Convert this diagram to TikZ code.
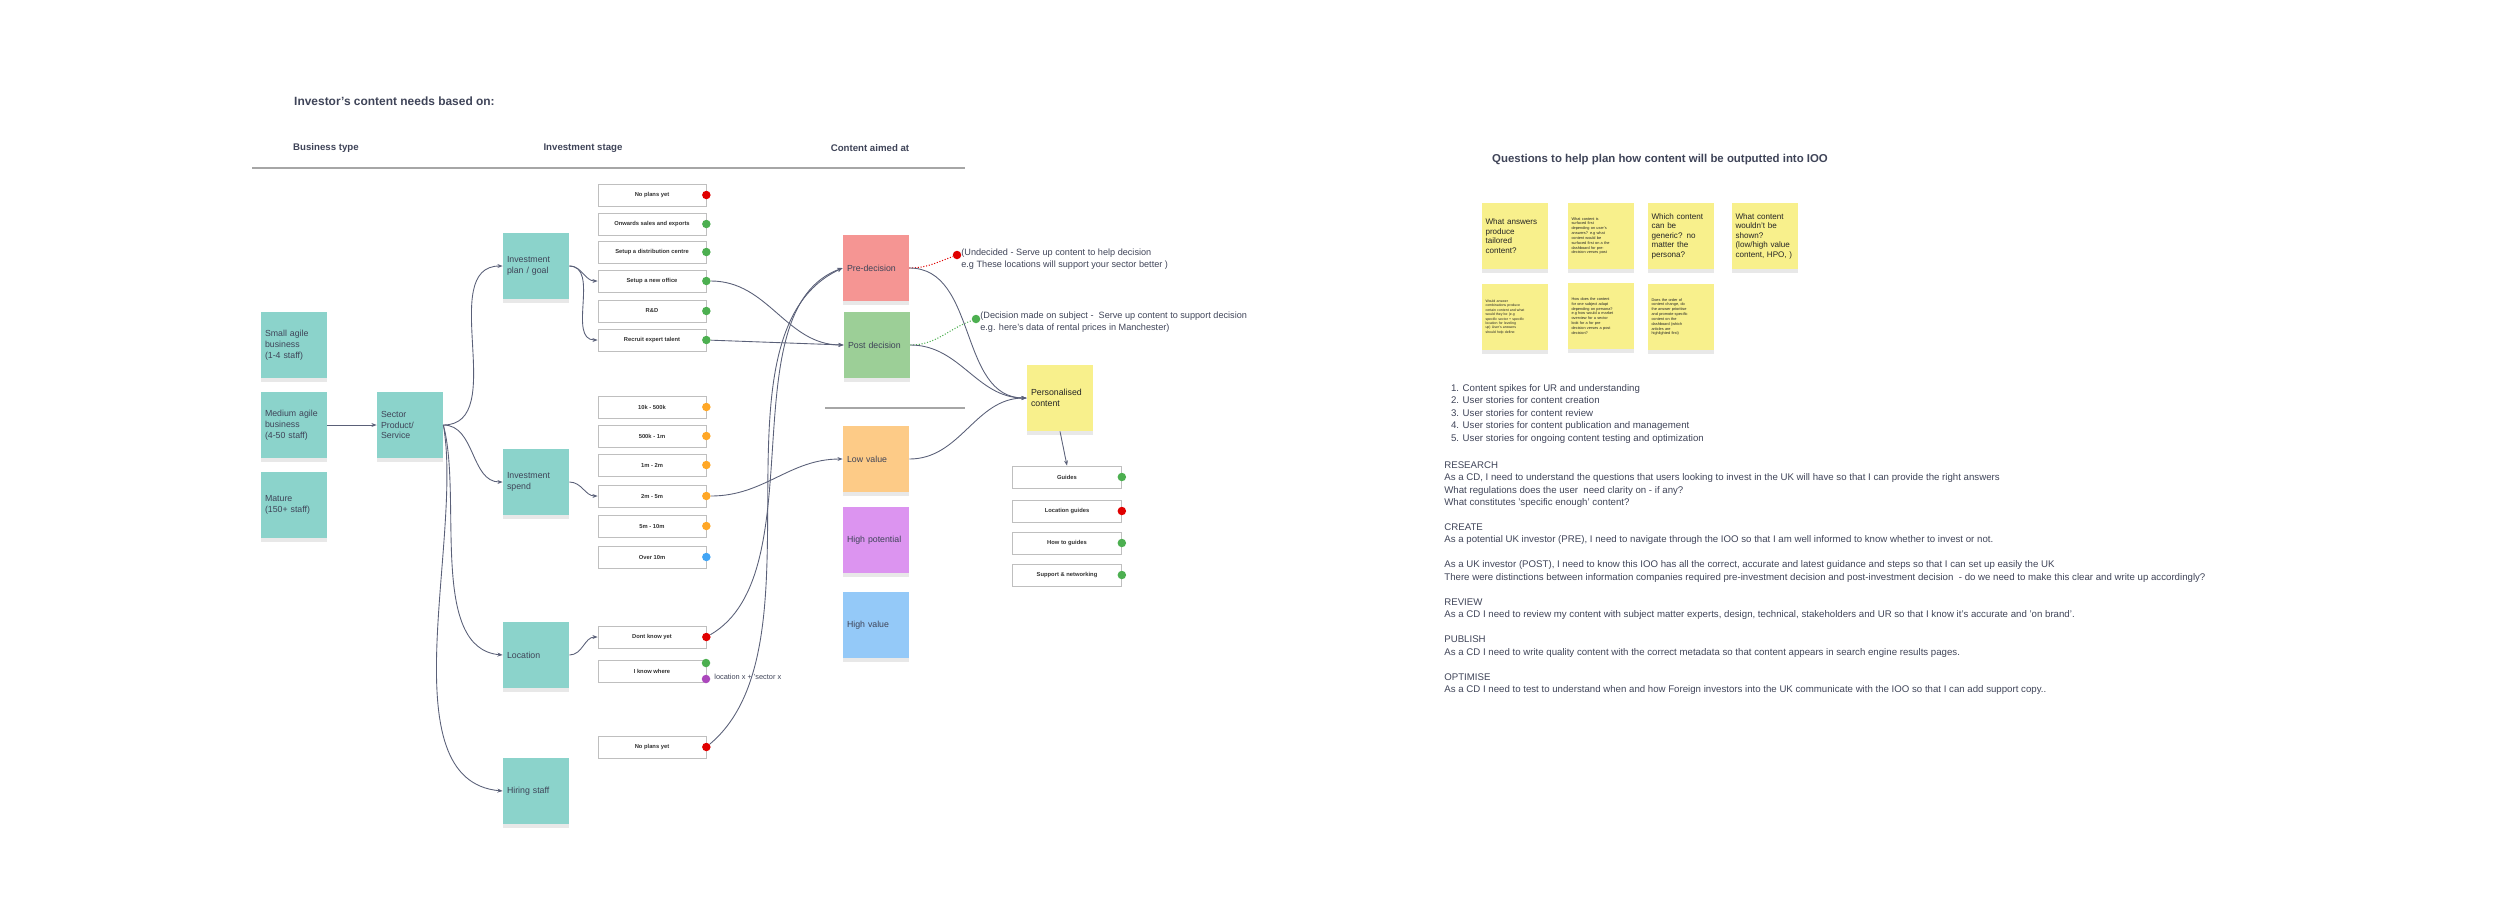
\documentclass[tikz,border=0pt]{standalone}
\usepackage{fontspec}
\setmainfont{Liberation Sans}
\usepackage{tikz}
\usetikzlibrary{arrows.meta,shadows}

\definecolor{txt}{HTML}{3F4458}
\definecolor{wire}{HTML}{5A6078}
\definecolor{teal}{HTML}{8BD3CB}
\definecolor{sticky}{HTML}{F8F08C}
\definecolor{prered}{HTML}{F59593}
\definecolor{postgreen}{HTML}{9CCF97}
\definecolor{loworange}{HTML}{FDCB87}
\definecolor{potpurple}{HTML}{DC94F0}
\definecolor{valblue}{HTML}{94C9F8}
\definecolor{dred}{HTML}{E00000}
\definecolor{dgreen}{HTML}{4CAF50}
\definecolor{dorange}{HTML}{FFA726}
\definecolor{dblue}{HTML}{42A5F5}
\definecolor{dpurple}{HTML}{AB47BC}

\tikzset{
  card/.style={minimum width=1.32cm, minimum height=1.32cm, text width=1.16cm, align=left,
    font=\fontsize{5}{6.2}\selectfont, text=txt, inner sep=0pt,
    drop shadow={opacity=0.18, shadow xshift=0pt, shadow yshift=-2pt}},
  bizbox/.style={card, fill=teal},
  optbox/.style={draw=black!25, fill=white, minimum width=2.16cm, minimum height=0.44cm,
    font=\bfseries\fontsize{3.3}{4}\selectfont, text=black!80, inner sep=0pt},
  dot/.style={circle, minimum size=0.17cm, inner sep=0pt},
  conn/.style={draw=wire, line width=0.5pt, -{Stealth[length=3pt]}},
  note/.style={card, fill=sticky, text width=1.18cm, text=black!85},
  head/.style={font=\bfseries\fontsize{5.5}{6.5}\selectfont, text=txt}
}

\begin{document}
\begin{tikzpicture}[x=0.02cm, y=-0.02cm]
  \useasboundingbox (0,0) rectangle (2500,917);

  % headers
  \node[head, anchor=west, font=\bfseries\fontsize{6.8}{8}\selectfont] (title) at (288,101) {Investor's content needs based on:};
  \node[head, anchor=west] (hbiz) at (287,148) {Business type};
  \node[head] (hstage) at (583,148) {Investment stage};
  \node[head] (haim) at (870,148) {Content aimed at};
  \draw[black!35, line width=0.8pt] (252,168) -- (965,168);

  % business type
  \node[bizbox] (small) at (294,345) {Small agile\\business\\(1-4 staff)};
  \node[bizbox] (medium) at (294,425) {Medium agile\\business\\(4-50 staff)};
  \node[bizbox] (mature) at (294,505) {Mature\\(150+ staff)};
  \node[bizbox] (sector) at (410,425) {Sector\\Product/\\Service};

  % investment stage
  \node[bizbox] (plan) at (536,266) {Investment\\plan / goal};
  \node[bizbox] (spend) at (536,482) {Investment\\spend};
  \node[bizbox] (location) at (536,655) {Location};
  \node[bizbox] (hiring) at (536,791) {Hiring staff};

  \foreach \y/\t/\c [count=\i] in {195/No plans yet/dred, 224/Onwards sales and exports/dgreen,
      252/Setup a distribution centre/dgreen, 281/Setup a new office/dgreen,
      311/R\&D/dgreen, 340/Recruit expert talent/dgreen}{
    \node[optbox] (p\i) at (652,\y) {\t};
    \node[dot, fill=\c] (p\i d) at (p\i.east) {};
  }
  \foreach \y/\t/\c [count=\i] in {407/10k - 500k/dorange, 436/500k - 1m/dorange, 465/1m - 2m/dorange,
      496/2m - 5m/dorange, 526/5m - 10m/dorange, 557/Over 10m/dblue}{
    \node[optbox] (s\i) at (652,\y) {\t};
    \node[dot, fill=\c] (s\i d) at (s\i.east) {};
  }
  \node[optbox] (dontknow) at (652,637) {Dont know yet};
  \node[dot, fill=dred] (dontknowd) at (dontknow.east) {};
  \node[optbox] (knowwhere) at (652,671) {I know where};
  \node[dot, fill=dgreen] (knowwhered) at (706,663) {};
  \node[dot, fill=dpurple] (knowwherep) at (706,679) {};
  \node[anchor=west, font=\fontsize{4.2}{5}\selectfont, text=txt, inner sep=0pt] (locx) at (714,677) {location x + 'sector x};
  \node[optbox] (noplans) at (652,747) {No plans yet};
  \node[dot, fill=dred] (noplansd) at (noplans.east) {};

  % content aimed at
  \node[card, fill=prered] (pre) at (876,268) {Pre-decision};
  \node[card, fill=postgreen] (post) at (877,345) {Post decision};
  \draw[black!35, line width=0.8pt] (825,408) -- (965,408);
  \node[card, fill=loworange] (low) at (876,459) {Low value};
  \node[card, fill=potpurple] (highpot) at (876,540) {High potential};
  \node[card, fill=valblue] (highval) at (876,625) {High value};
  \node[card, fill=sticky, text=black!85] (personal) at (1060,398) {Personalised\\content};

  \foreach \y/\t/\c [count=\i] in {477/Guides/dgreen, 511/Location guides/dred,
      543/How to guides/dgreen, 575/Support \& networking/dgreen}{
    \node[optbox, minimum width=2.18cm] (r\i) at (1067,\y) {\t};
    \node[dot, fill=\c] (r\i d) at (r\i.east) {};
  }

  % notes on decisions
  \node[dot, fill=dred] (predot) at (957,255) {};
  \node[anchor=north west, align=left, font=\fontsize{5.2}{6.3}\selectfont, text=txt, inner sep=0pt] (prenote) at (961,249)
    {(Undecided - Serve up content to help decision\\e.g These locations will support your sector better )};
  \node[dot, fill=dgreen] (postdot) at (976,319) {};
  \node[anchor=north west, align=left, font=\fontsize{5.2}{6.3}\selectfont, text=txt, inner sep=0pt] (postnote) at (980,312)
    {(Decision made on subject -\ \ Serve up content to support decision\\e.g. here's data of rental prices in Manchester)};
  \draw[dred, densely dotted, line width=0.6pt] (pre.east) to[out=0,in=200] (predot);
  \draw[dgreen, densely dotted, line width=0.6pt] (post.east) to[out=0,in=200] (postdot);

  % connectors
  \draw[conn] (medium) -- (sector);
  \draw[conn] (sector.east) to[out=0,in=180] (plan.west);
  \draw[conn] (sector.east) to[out=0,in=180] (spend.west);
  \draw[conn] (sector.east) to[out=-75,in=175, looseness=0.8] (location.west);
  \draw[conn] (sector.east) to[out=-80,in=175, looseness=0.8] (hiring.west);
  \draw[conn] (plan.east) to[out=0,in=180] (p4.west);
  \draw[conn] (plan.east) to[out=0,in=180] (p6.west);
  \draw[conn] (spend.east) to[out=0,in=180] (s4.west);
  \draw[conn] (location.east) to[out=0,in=180] (dontknow.west);
  \draw[conn] (p4d) to[out=0,in=180] (post.west);
  \draw[conn] (p6d) -- (post.west);
  \draw[conn] (s4d) to[out=0,in=180] (low.west);
  \draw[conn] (dontknowd) to[out=30,in=200, looseness=0.8] (pre.west);
  \draw[conn] (noplansd) to[out=40,in=205, looseness=0.8] (pre.west);
  \draw[conn] (pre.east) to[out=0,in=180] (personal.west);
  \draw[conn] (post.east) to[out=0,in=180] (personal.west);
  \draw[conn] (low.east) to[out=0,in=180] (personal.west);
  \draw[conn] (personal.south) -- (r1.north);

  % questions
  \node[head, anchor=west, font=\bfseries\fontsize{6.5}{8}\selectfont] (qtitle) at (1486,160) {Questions to help plan how content will be outputted into IOO};
  \node[note, font=\fontsize{4.6}{5.4}\selectfont] (q1) at (1515,236) {What answers\\produce\\tailored\\content?};
  \node[note, font=\fontsize{2.2}{2.75}\selectfont] (q2) at (1601,236) {What content is\\surfaced first\\depending on user's\\answers? e.g what\\content would be\\surfaced first on a the\\dashboard for pre-\\decision verses post};
  \node[note, font=\fontsize{4.6}{5.4}\selectfont] (q3) at (1681,236) {Which content\\can be\\generic? no\\matter the\\persona?};
  \node[note, font=\fontsize{4.6}{5.4}\selectfont] (q4) at (1765,236) {What content\\wouldn't be\\shown?\\(low/high value\\content, HPO, )};
  \node[note, font=\fontsize{2}{2.5}\selectfont] (q5) at (1515,317) {Would answer\\combinations produce\\certain content and what\\would they be (e.g\\specific sector + specific\\location for leveling\\up) User's answers\\should help define:};
  \node[note, font=\fontsize{2.2}{2.75}\selectfont] (q6) at (1601,316) {How does the content\\for one subject adapt\\depending on persona?\\e.g how would a market\\overview for a sector\\look for a for pre\\decision verses a post\\decision?};
  \node[note, font=\fontsize{2.2}{2.75}\selectfont] (q7) at (1681,317) {Does the order of\\content change, do\\the answer prioritise\\and promote specific\\content on the\\dashboard (which\\articles are\\highlighted first)};

  \node[anchor=north west, align=left, font=\fontsize{5.5}{7.1}\selectfont, text=txt, inner sep=0pt] (steps) at (1448,384)
    {\ 1. Content spikes for UR and understanding\\
     \ 2. User stories for content creation\\
     \ 3. User stories for content review\\
     \ 4. User stories for content publication and management\\
     \ 5. User stories for ongoing content testing and optimization};
  \node[anchor=north west, align=left, font=\fontsize{5.5}{7.1}\selectfont, text=txt, inner sep=0pt] (stories) at (1444,461)
    {RESEARCH\\
     As a CD, I need to understand the questions that users looking to invest in the UK will have so that I can provide the right answers\\
     What regulations does the user\ \ need clarity on - if any?\\
     What constitutes 'specific enough' content?\\[7.1pt]
     CREATE\\
     As a potential UK investor (PRE), I need to navigate through the IOO so that I am well informed to know whether to invest or not.\\[7.1pt]
     As a UK investor (POST), I need to know this IOO has all the correct, accurate and latest guidance and steps so that I can set up easily the UK\\
     There were distinctions between information companies required pre-investment decision and post-investment decision\ \ - do we need to make this clear and write up accordingly?\\[7.1pt]
     REVIEW\\
     As a CD I need to review my content with subject matter experts, design, technical, stakeholders and UR so that I know it's accurate and 'on brand'.\\[7.1pt]
     PUBLISH\\
     As a CD I need to write quality content with the correct metadata so that content appears in search engine results pages.\\[7.1pt]
     OPTIMISE\\
     As a CD I need to test to understand when and how Foreign investors into the UK communicate with the IOO so that I can add support copy..};
\end{tikzpicture}
\end{document}
